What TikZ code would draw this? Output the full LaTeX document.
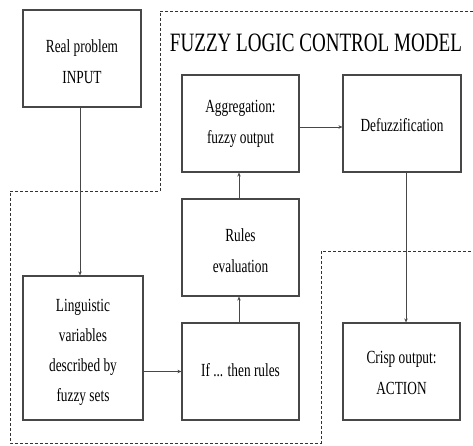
\documentclass[tikz,border=0pt]{standalone}
\usepackage{fontspec}
\setmainfont{Liberation Serif}[FakeStretch=0.72]
\usetikzlibrary{arrows.meta}
\begin{document}
\begin{tikzpicture}[x=1pt,y=-1pt,
  box/.style={draw=black!72, line width=1.2pt, inner sep=0pt,
    minimum width=117pt, minimum height=97pt},
  txt/.style={align=center, inner sep=0pt, text=black,
    font=\fontsize{18.5}{31}\selectfont},
  arr/.style={draw=black!72, line width=0.9pt, -{Stealth[length=4pt,width=3.5pt]}},
  zone/.style={draw=black!80, line width=0.8pt, dash pattern=on 3pt off 2pt}]
\useasboundingbox (0,0) rectangle (473,446);
% dashed fuzzy control zone
\draw[zone] (473,11) -- (160,11) -- (160,191) -- (10,191) -- (10,443)
  -- (321,443) -- (321,251) -- (473,251);
% title
\node[anchor=base, inner sep=0pt, text=black, font=\fontsize{26.5}{30}\selectfont]
  (title) at (316,52) {FUZZY LOGIC CONTROL MODEL};
% boxes
\node[box, minimum width=118pt] (real) at (82,58.5) {};
\node[box, minimum width=120pt, minimum height=144pt] (ling) at (83,348) {};
\node[box] (agg) at (240.5,123.5) {};
\node[box, minimum width=118pt] (defuzz) at (402,123.5) {};
\node[box] (rules) at (240.5,247.5) {};
\node[box] (ifthen) at (240.5,371.5) {};
\node[box] (crisp) at (401.5,371.5) {};
% texts
\node[txt] (realtxt) at ([yshift=-2.7pt]real.center) {Real problem\\INPUT};
\node[txt, font=\fontsize{18.5}{30}\selectfont] (lingtxt) at ([yshift=-4.6pt]ling.center)
  {Linguistic\\variables\\described by\\fuzzy sets};
\node[txt] (aggtxt) at (agg.center) {Aggregation:\\fuzzy output};
\node[txt] (defuzztxt) at ([yshift=-1.2pt]defuzz.center) {Defuzzification};
\node[txt] (rulestxt) at ([yshift=-3.2pt]rules.center) {Rules\\evaluation};
\node[txt] (iftxt) at ([yshift=1.8pt]ifthen.center) {If ... then rules};
\node[txt] (crisptxt) at ([yshift=-1.2pt]crisp.center) {Crisp output:\\ACTION};
% connectors
\draw[arr] ([xshift=-2pt]real.south) -- ([xshift=-2pt]real.south |- ling.north);
\draw[arr] (ling.east |- ifthen.west) -- (ifthen.west);
\draw[arr] ([xshift=-1.5pt]ifthen.north) -- ([xshift=-1.5pt]rules.south);
\draw[arr] ([xshift=-1.5pt]rules.north) -- ([xshift=-1.5pt]agg.south);
\draw[arr] ([yshift=-3.5pt]agg.east) -- ([yshift=-3.5pt]defuzz.west);
\draw[arr] ([xshift=4pt]defuzz.south) -- ([xshift=4pt]defuzz.south |- crisp.north);
\end{tikzpicture}
\end{document}
